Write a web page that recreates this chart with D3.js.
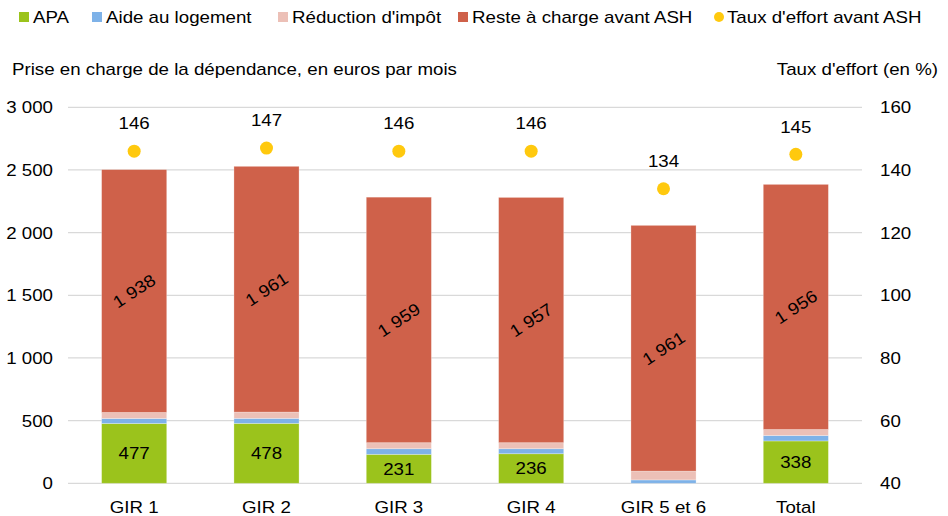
<!DOCTYPE html>
<html>
<head>
<meta charset="utf-8">
<script src="https://cdn.jsdelivr.net/npm/d3@7"></script>
<style>
  body { margin: 0; background: #fff; }
  text { font-family: "Liberation Sans", Arial, sans-serif; fill: #000; }
</style>
</head>
<body>
<div id="chart"></div>
<script>
var categories = ["GIR 1", "GIR 2", "GIR 3", "GIR 4", "GIR 5 et 6", "Total"];
var apa = [477, 478, 231, 236, 0, 338];
var aideLogement = [40, 40, 45, 40, 27, 43];
var reductionImpot = [48, 50, 48, 48, 70, 48];
var resteACharge = [1938, 1961, 1959, 1957, 1961, 1956];
var tauxEffort = [146, 147, 146, 146, 134, 145];
var leftTicks = [0, 500, 1000, 1500, 2000, 2500, 3000];
var rightTicks = [40, 60, 80, 100, 120, 140, 160];

var seriesNames = ["APA", "Aide au logement", "Réduction d'impôt", "Reste à charge avant ASH"];
var colors = ["#9bc31c", "#7eb2e8", "#ecc0b7", "#cf614a"];
var dotColor = "#ffc90e";

var W = 948, H = 516;
var plot = {left: 68, right: 862, top: 107.3, bottom: 483.3};
var fs = "17px";

var fr = d3.formatLocale({decimal: ",", thousands: "\u00a0", grouping: [3], currency: ["", " €"]});
var fmt = fr.format(",d");

var svg = d3.select("#chart").append("svg")
  .attr("width", W).attr("height", H);

var x = d3.scaleBand()
  .domain(categories)
  .range([plot.left, plot.right])
  .paddingInner(0.508)
  .paddingOuter(0.254);

var y = d3.scaleLinear().domain([0, 3000]).range([plot.bottom, plot.top]);
var y2 = d3.scaleLinear().domain([40, 160]).range([plot.bottom, plot.top]);

// gridlines
svg.append("g")
  .selectAll("line")
  .data(leftTicks)
  .enter()
  .append("line")
  .attr("x1", plot.left)
  .attr("x2", plot.right)
  .attr("y1", function(d){ return y(d); })
  .attr("y2", function(d){ return y(d); })
  .attr("stroke", "#d9d9d9")
  .attr("stroke-width", 1.3);

// left axis
var leftAxis = svg.append("g")
  .attr("transform", "translate(" + plot.left + ",0)")
  .call(d3.axisLeft(y).tickValues(leftTicks).tickFormat(fmt).tickSize(0).tickPadding(15));
leftAxis.select(".domain").remove();
leftAxis.selectAll("text").attr("font-size", fs).attr("fill", "#000");

// right axis
var rightAxis = svg.append("g")
  .attr("transform", "translate(" + plot.right + ",0)")
  .call(d3.axisRight(y2).tickValues(rightTicks).tickSize(0).tickPadding(18));
rightAxis.select(".domain").remove();
rightAxis.selectAll("text").attr("font-size", fs).attr("fill", "#000");

// bottom labels
svg.append("g")
  .selectAll("text")
  .data(categories)
  .enter()
  .append("text")
  .attr("x", function(d){ return x(d) + x.bandwidth() / 2; })
  .attr("y", 512.5)
  .attr("text-anchor", "middle")
  .attr("font-size", fs)
  .text(function(d){ return d; });

// stacked data
var rows = categories.map(function(c, i) {
  return {cat: c, s0: apa[i], s1: aideLogement[i], s2: reductionImpot[i], s3: resteACharge[i]};
});
var stack = d3.stack().keys(["s0", "s1", "s2", "s3"])(rows);

svg.append("g")
  .selectAll("g")
  .data(stack)
  .enter()
  .append("g")
  .attr("fill", function(d, i){ return colors[i]; })
  .selectAll("rect")
  .data(function(d){ return d; })
  .enter()
  .append("rect")
  .attr("x", function(d){ return x(d.data.cat); })
  .attr("width", x.bandwidth())
  .attr("y", function(d){ return y(d[1]); })
  .attr("height", function(d){ return Math.max(0, y(d[0]) - y(d[1])); })
  .attr("stroke", "#fff")
  .attr("stroke-opacity", 0.35)
  .attr("stroke-width", 0.8);

// APA labels
svg.append("g")
  .selectAll("text")
  .data(stack[0].filter(function(d){ return d[1] - d[0] > 0; }))
  .enter()
  .append("text")
  .attr("x", function(d){ return x(d.data.cat) + x.bandwidth() / 2; })
  .attr("y", function(d){ return (y(d[0]) + y(d[1])) / 2; })
  .attr("dy", "0.35em")
  .attr("text-anchor", "middle")
  .attr("font-size", fs)
  .text(function(d){ return fmt(d[1] - d[0]); });

// reste a charge labels (rotated)
svg.append("g")
  .selectAll("text")
  .data(stack[3])
  .enter()
  .append("text")
  .attr("transform", function(d){
    var cx = x(d.data.cat) + x.bandwidth() / 2;
    var cy = (y(d[0]) + y(d[1])) / 2;
    return "translate(" + cx + "," + cy + ") rotate(-33)";
  })
  .attr("dy", "0.35em")
  .attr("text-anchor", "middle")
  .attr("font-size", fs)
  .text(function(d){ return fmt(d[1] - d[0]); });

// taux d'effort dots
svg.append("g")
  .selectAll("circle")
  .data(tauxEffort)
  .enter()
  .append("circle")
  .attr("cx", function(d, i){ return x(categories[i]) + x.bandwidth() / 2; })
  .attr("cy", function(d){ return y2(d); })
  .attr("r", 6.5)
  .attr("fill", dotColor);

svg.append("g")
  .selectAll("text")
  .data(tauxEffort)
  .enter()
  .append("text")
  .attr("x", function(d, i){ return x(categories[i]) + x.bandwidth() / 2; })
  .attr("y", function(d){ return y2(d) - 21.7; })
  .attr("text-anchor", "middle")
  .attr("font-size", fs)
  .text(function(d){ return d; });

// axis titles
svg.append("text")
  .attr("x", 12).attr("y", 75)
  .attr("font-size", fs)
  .text("Prise en charge de la dépendance, en euros par mois");

svg.append("text")
  .attr("x", 938).attr("y", 75)
  .attr("text-anchor", "end")
  .attr("font-size", fs)
  .text("Taux d'effort (en %)");

// legend
var legendX = [19, 92, 278, 458, 714];
var legend = svg.append("g");
seriesNames.forEach(function(name, i) {
  legend.append("rect")
    .attr("x", legendX[i]).attr("y", 12)
    .attr("width", 10).attr("height", 10)
    .attr("fill", colors[i]);
  legend.append("text")
    .attr("x", legendX[i] + 14).attr("y", 22.5)
    .attr("font-size", fs)
    .text(name);
});
legend.append("circle")
  .attr("cx", legendX[4] + 5).attr("cy", 17)
  .attr("r", 5)
  .attr("fill", dotColor);
legend.append("text")
  .attr("x", legendX[4] + 13).attr("y", 22.5)
  .attr("font-size", fs)
  .text("Taux d'effort avant ASH");

// the reference text is a bit wider than Liberation Sans at this size
svg.selectAll("text").each(function() {
  var len = this.getComputedTextLength();
  d3.select(this)
    .attr("textLength", len * 1.1)
    .attr("lengthAdjust", "spacingAndGlyphs");
});
</script>
</body>
</html>
